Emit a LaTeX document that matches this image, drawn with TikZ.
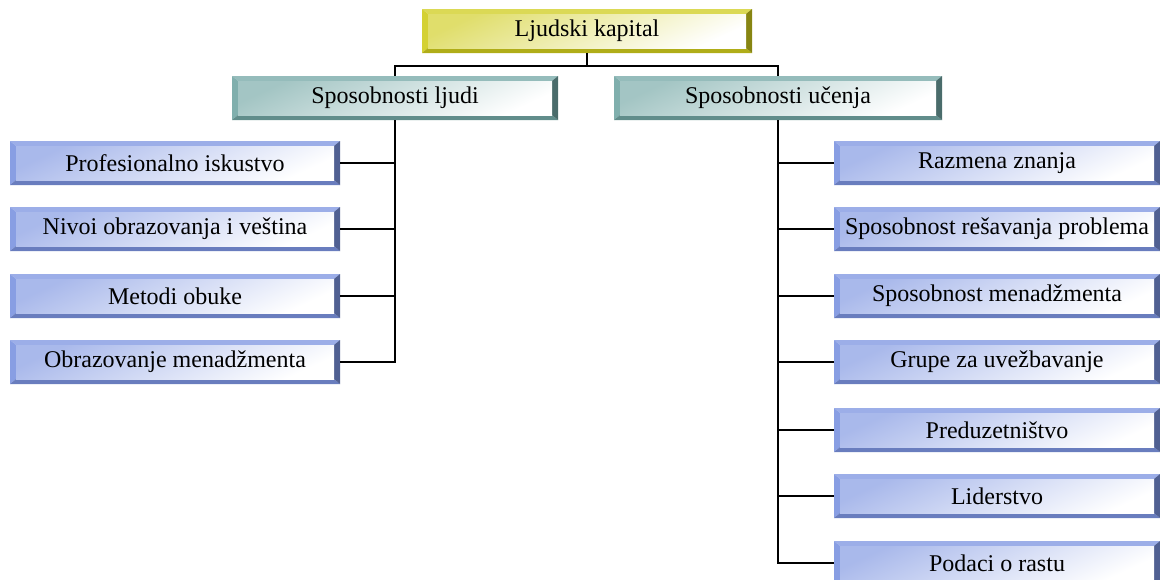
\documentclass[tikz,border=0pt]{standalone}
\usepackage{fontspec}
\setmainfont{Liberation Serif}
\usetikzlibrary{calc}

\definecolor{ybase}{RGB}{207,204,28}
\definecolor{tbase}{RGB}{114,166,164}
\definecolor{bbase}{RGB}{123,147,224}

% Bevelled box: #1 = base colour of the frame and the face tint
\tikzset{
  bevelbox/.style={
    rectangle, inner sep=0pt, minimum height=44pt,
    font=\fontsize{24}{28}\selectfont,
    path picture={
      \coordinate (nw) at (path picture bounding box.north west);
      \coordinate (ne) at (path picture bounding box.north east);
      \coordinate (sw) at (path picture bounding box.south west);
      \coordinate (se) at (path picture bounding box.south east);
      \coordinate (inw) at ([xshift=6pt,yshift=-5pt]nw);
      \coordinate (ine) at ([xshift=-6pt,yshift=-5pt]ne);
      \coordinate (isw) at ([xshift=6pt,yshift=5pt]sw);
      \coordinate (ise) at ([xshift=-6pt,yshift=5pt]se);
      \fill[#1!75!white] (nw) -- (ne) -- (ine) -- (inw) -- cycle;
      \fill[#1!90!white] (nw) -- (inw) -- (isw) -- (sw) -- cycle;
      \fill[#1!85!black] (sw) -- (isw) -- (ise) -- (se) -- cycle;
      \fill[#1!65!black] (ne) -- (se) -- (ise) -- (ine) -- cycle;
      \shade[shading=axis, top color=#1!65!white, bottom color=white, shading angle=25]
        (inw) rectangle (ise);
    }
  },
  link/.style={line width=2pt, black}
}

\begin{document}
\begin{tikzpicture}[x=1pt,y=-1pt]
  \useasboundingbox (0,0) rectangle (1160,579);

  % root and the two branches
  \node[bevelbox=ybase, minimum width=330pt] (root) at (587,31) {Ljudski kapital};
  \node[bevelbox=tbase, minimum width=326pt] (ppl) at (395,98) {Sposobnosti ljudi};
  \node[bevelbox=tbase, minimum width=328pt] (lrn) at (778,98) {Sposobnosti učenja};

  % leaves of the left branch
  \node[bevelbox=bbase, minimum width=330pt] (a1) at (175,163) {Profesionalno iskustvo};
  \node[bevelbox=bbase, minimum width=330pt] (a2) at (175,229) {Nivoi obrazovanja i veština};
  \node[bevelbox=bbase, minimum width=330pt] (a3) at (175,296) {Metodi obuke};
  \node[bevelbox=bbase, minimum width=330pt] (a4) at (175,362) {Obrazovanje menadžmenta};

  % leaves of the right branch
  \node[bevelbox=bbase, minimum width=326pt] (b1) at (997,163) {Razmena znanja};
  \node[bevelbox=bbase, minimum width=326pt] (b2) at (997,229) {Sposobnost rešavanja problema};
  \node[bevelbox=bbase, minimum width=326pt] (b3) at (997,296) {Sposobnost menadžmenta};
  \node[bevelbox=bbase, minimum width=326pt] (b4) at (997,362) {Grupe za uvežbavanje};
  \node[bevelbox=bbase, minimum width=326pt] (b5) at (997,430) {Preduzetništvo};
  \node[bevelbox=bbase, minimum width=326pt] (b6) at (997,496) {Liderstvo};
  \node[bevelbox=bbase, minimum width=326pt] (b7) at (997,563) {Podaci o rastu};

  % connectors
  \coordinate (bus) at (587,66);
  \draw[link] (root.south) -- (bus);
  \draw[link] (ppl.north) |- (bus) -| (lrn.north);

  \draw[link] (ppl.south) |- (a4.east);
  \foreach \n in {a1,a2,a3}
    \draw[link] (\n.east) -- (ppl.south |- \n.east);

  \draw[link] (lrn.south) |- (b7.west);
  \foreach \n in {b1,b2,b3,b4,b5,b6}
    \draw[link] (\n.west) -- (lrn.south |- \n.west);
\end{tikzpicture}
\end{document}
